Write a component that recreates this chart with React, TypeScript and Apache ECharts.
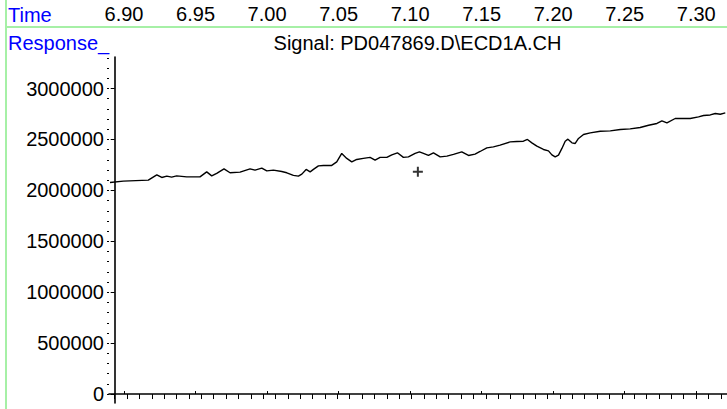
import React, { useEffect, useRef } from "react";
import * as echarts from "echarts";

// Retention time (min) and detector response
const times = [
  6.8902, 6.8995, 6.917, 6.9229, 6.9264, 6.9299, 6.9333, 6.9368, 6.9438, 6.9531,
  6.9578, 6.9613, 6.9648, 6.9699, 6.9741, 6.9811, 6.9881, 6.9916, 6.9963, 6.9998,
  7.0044, 7.0103, 7.0138, 7.0184, 7.0219, 7.0243, 7.0273, 7.0301, 7.0324, 7.0359,
  7.0394, 7.0452, 7.0487, 7.0522, 7.0557, 7.0592, 7.0627, 7.0673, 7.072, 7.0755,
  7.079, 7.0837, 7.0872, 7.0911, 7.0953, 7.0988, 7.1035, 7.1065, 7.1093, 7.1128,
  7.1163, 7.121, 7.1257, 7.1303, 7.1361, 7.1408, 7.1454, 7.1489, 7.1536, 7.1582,
  7.1629, 7.1699, 7.1746, 7.1792, 7.182, 7.1851, 7.1886, 7.1932, 7.1967, 7.1991,
  7.2014, 7.2037, 7.2061, 7.2084, 7.2103, 7.2131, 7.2154, 7.2177, 7.2212, 7.2259,
  7.2329, 7.2399, 7.2469, 7.2538, 7.2608, 7.2667, 7.2725, 7.276, 7.2795, 7.2853,
  7.2888, 7.2958, 7.3016, 7.3051, 7.3098, 7.3133, 7.3168, 7.3203,
];
const responses = [
  2078000, 2091000, 2101000, 2153000, 2127000, 2140000, 2130000, 2143000, 2133000, 2133000,
  2182000, 2143000, 2167000, 2212000, 2173000, 2179000, 2212000, 2199000, 2219000, 2192000,
  2199000, 2186000, 2173000, 2147000, 2140000, 2160000, 2206000, 2182000, 2206000, 2241000,
  2245000, 2245000, 2280000, 2363000, 2314000, 2280000, 2304000, 2314000, 2324000, 2297000,
  2324000, 2324000, 2349000, 2369000, 2324000, 2329000, 2363000, 2378000, 2363000, 2343000,
  2369000, 2329000, 2336000, 2353000, 2378000, 2343000, 2356000, 2382000, 2418000, 2427000,
  2444000, 2476000, 2480000, 2483000, 2500000, 2467000, 2434000, 2402000, 2388000, 2349000,
  2329000, 2346000, 2412000, 2483000, 2503000, 2467000, 2461000, 2510000, 2549000, 2565000,
  2581000, 2584000, 2598000, 2604000, 2618000, 2640000, 2657000, 2682000, 2663000, 2706000,
  2706000, 2706000, 2722000, 2735000, 2741000, 2755000, 2748000, 2761000,
];

// Cursor marker
const cursorPoint = [7.1054, 2182000];

// Tick labels / tick positions
const timeTicks = [6.9, 6.95, 7.0, 7.05, 7.1, 7.15, 7.2, 7.25, 7.3];
const responseTicks = [0, 500000, 1000000, 1500000, 2000000, 2500000, 3000000];
const responseMinorTicks = [
  0, 100000, 200000, 300000, 400000, 500000, 600000, 700000, 800000, 900000,
  1000000, 1100000, 1200000, 1300000, 1400000, 1500000, 1600000, 1700000, 1800000, 1900000,
  2000000, 2100000, 2200000, 2300000, 2400000, 2500000, 2600000, 2700000, 2800000, 2900000,
  3000000, 3100000, 3200000, 3300000,
];
const scanTicks = [
  0, 1, 2, 3, 4, 5, 6, 7, 8, 9, 10, 11, 12, 13, 14, 15, 16, 17, 18, 19,
  20, 21, 22, 23, 24, 25, 26, 27, 28, 29, 30, 31, 32, 33, 34, 35, 36, 37, 38, 39,
  40, 41, 42, 43, 44, 45, 46, 47, 48, 49,
];

const FONT = "'Liberation Sans', Arial, sans-serif";

export default function App() {
  const ref = useRef<HTMLDivElement>(null);
  useEffect(() => {
    if (!ref.current) return;
    const chart = echarts.init(ref.current, undefined, { renderer: "svg" });
    const seriesData = times.map((t, i) => [t, responses[i]]);
    chart.setOption({
      animation: false,
      backgroundColor: "#ffffff",
      grid: { left: 109, right: 0, top: 57, bottom: 6 },
      xAxis: [
        {
          type: "value",
          position: "top",
          offset: 54,
          min: 6.8895,
          max: 7.3215,
          axisLine: { show: false },
          splitLine: { show: false },
          axisTick: {
            show: true,
            length: 3,
            customValues: timeTicks,
            lineStyle: { color: "#000", width: 1 },
          },
          axisLabel: {
            inside: true,
            margin: 1,
            customValues: timeTicks,
            formatter: (v: number) => v.toFixed(2),
            color: "#000",
            fontSize: 20,
            fontFamily: FONT,
          },
        },
        {
          type: "value",
          position: "bottom",
          min: -0.461,
          max: 49.5,
          axisLine: { show: true, lineStyle: { color: "#000", width: 1.6 } },
          splitLine: { show: false },
          axisTick: {
            show: true,
            length: 5,
            customValues: scanTicks,
            lineStyle: { color: "#000", width: 1 },
          },
          axisLabel: { show: false },
        },
      ],
      yAxis: [
        {
          type: "value",
          position: "left",
          min: -88000,
          max: 3310000,
          axisLine: { show: true, lineStyle: { color: "#000", width: 1.6 } },
          splitLine: { show: false },
          axisTick: {
            show: true,
            length: 4,
            customValues: responseTicks,
            lineStyle: { color: "#000", width: 1 },
          },
          axisLabel: {
            margin: 5,
            customValues: responseTicks,
            formatter: (v: number) => String(Math.round(v)),
            color: "#000",
            fontSize: 20,
            fontFamily: FONT,
          },
        },
        {
          type: "value",
          position: "left",
          min: -88000,
          max: 3310000,
          axisLine: { show: false },
          splitLine: { show: false },
          axisTick: {
            show: true,
            length: 2,
            customValues: responseMinorTicks,
            lineStyle: { color: "#000", width: 1 },
          },
          axisLabel: { show: false },
        },
      ],
      series: [
        {
          type: "line",
          xAxisIndex: 0,
          yAxisIndex: 0,
          data: seriesData,
          showSymbol: false,
          lineStyle: { color: "#000", width: 1.4 },
          silent: true,
        },
        {
          type: "scatter",
          xAxisIndex: 0,
          yAxisIndex: 0,
          data: [cursorPoint],
          symbol: "path://M4,0h2v10h-2z M0,4h10v2h-10z",
          symbolSize: 10,
          itemStyle: { color: "#000" },
          silent: true,
        },
      ],
      graphic: [
        {
          type: "line",
          shape: { x1: 6, y1: 0, x2: 6, y2: 409 },
          style: { stroke: "#a6f0a6", lineWidth: 2 },
        },
        {
          type: "line",
          shape: { x1: 5, y1: 27, x2: 727, y2: 27 },
          style: { stroke: "#a6f0a6", lineWidth: 2 },
        },
        {
          type: "text",
          x: 8,
          y: 14.5,
          style: {
            text: "Time",
            fill: "#0000ff",
            font: `20px ${FONT}`,
            verticalAlign: "middle",
            align: "left",
          },
        },
        {
          type: "text",
          x: 8,
          y: 42.5,
          style: {
            text: "Response_",
            fill: "#0000ff",
            font: `20px ${FONT}`,
            verticalAlign: "middle",
            align: "left",
          },
        },
        {
          type: "text",
          x: 417.5,
          y: 43,
          style: {
            text: "Signal: PD047869.D\\ECD1A.CH",
            fill: "#000",
            font: `20px ${FONT}`,
            verticalAlign: "middle",
            align: "center",
          },
        },
      ],
    });
    return () => chart.dispose();
  }, []);
  return (
    <div
      ref={ref}
      style={{ position: "fixed", left: 0, top: 0, width: 727, height: 409 }}
    />
  );
}
